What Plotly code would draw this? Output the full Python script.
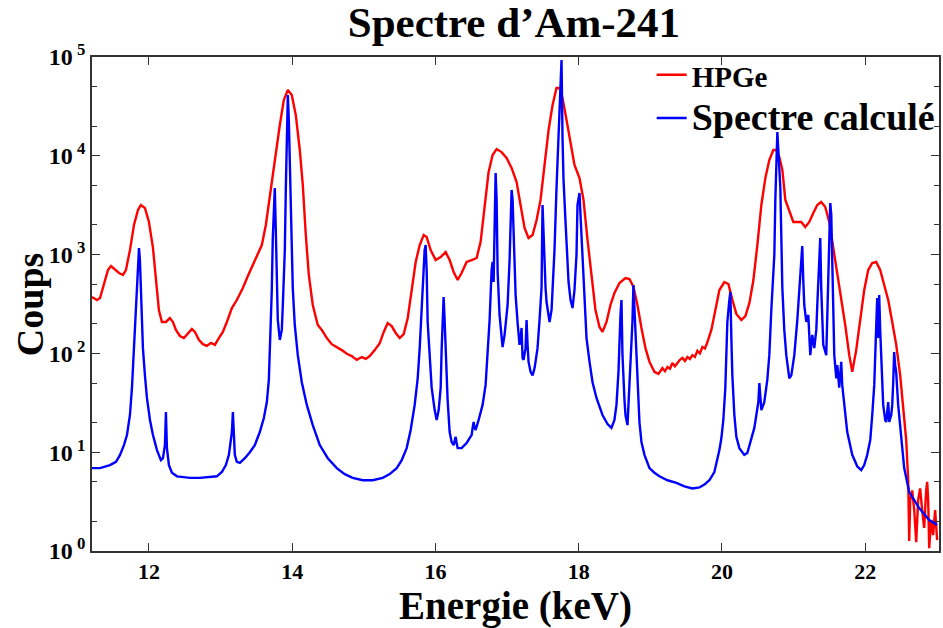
import plotly.graph_objects as go

# ---------------- data ----------------
hpge_energy = [
    11.205, 11.275, 11.317, 11.372, 11.428, 11.470, 11.526, 11.582, 11.637, 11.679,
    11.735, 11.791, 11.847, 11.888, 11.944, 12.000, 12.056, 12.098, 12.139, 12.181,
    12.237, 12.293, 12.335, 12.377, 12.432, 12.488, 12.544, 12.600, 12.642, 12.697,
    12.753, 12.809, 12.865, 12.921, 12.976, 13.032, 13.088, 13.158, 13.227, 13.311,
    13.381, 13.450, 13.520, 13.576, 13.632, 13.688, 13.757, 13.827, 13.883, 13.939,
    13.994, 14.050, 14.106, 14.148, 14.190, 14.232, 14.287, 14.357, 14.413, 14.483,
    14.552, 14.622, 14.692, 14.762, 14.831, 14.901, 14.971, 15.027, 15.082, 15.152,
    15.222, 15.278, 15.333, 15.389, 15.445, 15.501, 15.557, 15.613, 15.668, 15.724,
    15.780, 15.836, 15.877, 15.933, 16.003, 16.073, 16.142, 16.198, 16.254, 16.310,
    16.365, 16.435, 16.505, 16.575, 16.630, 16.686, 16.742, 16.798, 16.854, 16.923,
    16.993, 17.063, 17.133, 17.188, 17.244, 17.300, 17.356, 17.412, 17.467, 17.523,
    17.579, 17.635, 17.690, 17.732, 17.774, 17.830, 17.886, 17.941, 18.011, 18.067,
    18.123, 18.178, 18.234, 18.290, 18.332, 18.388, 18.443, 18.499, 18.569, 18.653,
    18.709, 18.764, 18.820, 18.876, 18.932, 18.988, 19.057, 19.113, 19.169, 19.204,
    19.239, 19.274, 19.308, 19.343, 19.378, 19.413, 19.448, 19.483, 19.518, 19.553,
    19.587, 19.622, 19.657, 19.692, 19.727, 19.762, 19.797, 19.852, 19.908, 19.964,
    20.034, 20.090, 20.146, 20.201, 20.271, 20.327, 20.383, 20.439, 20.494, 20.550,
    20.606, 20.661, 20.717, 20.759, 20.801, 20.843, 20.885, 20.940, 20.996, 21.052,
    21.107, 21.163, 21.219, 21.275, 21.331, 21.386, 21.442, 21.498, 21.554, 21.609,
    21.665, 21.721, 21.777, 21.819, 21.874, 21.930, 21.986, 22.042, 22.098, 22.153,
    22.209, 22.265, 22.321, 22.377, 22.433, 22.488, 22.530, 22.572, 22.600, 22.614,
    22.628, 22.656, 22.684, 22.712, 22.739, 22.767, 22.795, 22.823, 22.851, 22.865,
    22.879, 22.893, 22.921, 22.948, 22.976, 23.004,
]
hpge_counts = [
    372, 347, 364, 492, 698, 767, 698, 651, 622, 698,
    1113, 1995, 2830, 3180, 2960, 2140, 1170, 553, 275, 208,
    208, 228, 208, 173, 150, 143, 161, 177, 165, 137,
    124, 119, 128, 122, 143, 165, 208, 288, 347, 459,
    607, 785, 991, 1250, 1995, 4010, 9060, 20500, 36700, 46400,
    41200, 25900, 11450, 5060, 1580, 622, 309, 194, 173, 143,
    124, 116, 108, 99, 94, 86, 92, 88, 94, 108,
    127, 165, 203, 189, 161, 143, 157, 228, 438, 842,
    1250, 1580, 1507, 1113, 881, 946, 1060, 881, 667, 553,
    651, 842, 881, 924, 1340, 3180, 6850, 10200, 11700, 10900,
    9500, 7530, 5430, 3180, 1860, 1470, 1580, 2240, 3570, 8070,
    18200, 32700, 48500, 48500, 38400, 23000, 13500, 8070, 5960, 3570,
    1410, 580, 275, 185, 165, 208, 309, 408, 516, 580,
    566, 470, 309, 181, 113, 82, 65, 62, 71, 66,
    73, 70, 80, 74, 80, 86, 90, 84, 92, 88,
    96, 92, 106, 100, 116, 112, 130, 173, 275, 438,
    528, 504, 347, 251, 218, 239, 324, 553, 1250, 3180,
    5960, 9060, 11450, 11450, 9720, 7180, 3570, 2830, 2140, 2140,
    2140, 1900, 2140, 2640, 3180, 3410, 3030, 2140, 1170, 698,
    364, 194, 96, 65, 108, 228, 438, 698, 822, 842,
    698, 492, 347, 208, 122, 60, 26.7, 13.3, 5.2, 1.26,
    3.28, 4.1, 2.6, 1.23, 3.28, 4.3, 2.6, 1.71, 4.1, 5.0,
    3.28, 1.07, 2.06, 1.45, 2.6, 1.29,
]

calc_energy = [
    11.205, 11.317, 11.456, 11.540, 11.596, 11.651, 11.693, 11.735, 11.763, 11.791,
    11.805, 11.833, 11.847, 11.861, 11.874, 11.888, 11.902, 11.916, 11.944, 11.972,
    12.014, 12.056, 12.112, 12.167, 12.195, 12.223, 12.237, 12.251, 12.279, 12.321,
    12.391, 12.474, 12.572, 12.711, 12.851, 12.948, 13.018, 13.074, 13.116, 13.144,
    13.158, 13.172, 13.185, 13.199, 13.227, 13.269, 13.339, 13.409, 13.478, 13.548,
    13.604, 13.646, 13.674, 13.702, 13.715, 13.729, 13.743, 13.757, 13.771, 13.785,
    13.799, 13.827, 13.855, 13.869, 13.897, 13.911, 13.925, 13.939, 13.953, 13.967,
    13.980, 13.994, 14.008, 14.036, 14.078, 14.134, 14.204, 14.287, 14.385, 14.497,
    14.622, 14.734, 14.845, 14.985, 15.124, 15.264, 15.361, 15.459, 15.529, 15.598,
    15.654, 15.710, 15.752, 15.780, 15.808, 15.821, 15.835, 15.849, 15.863, 15.877,
    15.891, 15.919, 15.947, 15.989, 16.017, 16.045, 16.073, 16.086, 16.100, 16.114,
    16.128, 16.142, 16.170, 16.198, 16.226, 16.254, 16.268, 16.282, 16.296, 16.310,
    16.365, 16.435, 16.477, 16.505, 16.519, 16.533, 16.547, 16.561, 16.603, 16.658,
    16.700, 16.728, 16.756, 16.784, 16.798, 16.812, 16.826, 16.840, 16.854, 16.868,
    16.895, 16.909, 16.937, 16.965, 16.993, 17.007, 17.035, 17.049, 17.063, 17.077,
    17.091, 17.105, 17.119, 17.146, 17.174, 17.188, 17.202, 17.216, 17.230, 17.258,
    17.272, 17.286, 17.300, 17.328, 17.356, 17.384, 17.425, 17.453, 17.481, 17.495,
    17.509, 17.537, 17.551, 17.565, 17.593, 17.621, 17.635, 17.662, 17.690, 17.718,
    17.732, 17.746, 17.760, 17.774, 17.788, 17.816, 17.844, 17.858, 17.886, 17.914,
    17.941, 17.969, 17.983, 18.011, 18.025, 18.053, 18.081, 18.109, 18.151, 18.193,
    18.248, 18.332, 18.402, 18.457, 18.499, 18.527, 18.555, 18.569, 18.583, 18.597,
    18.611, 18.639, 18.653, 18.681, 18.709, 18.736, 18.750, 18.764, 18.778, 18.792,
    18.820, 18.848, 18.876, 18.918, 18.988, 19.057, 19.127, 19.239, 19.364, 19.476,
    19.587, 19.685, 19.755, 19.824, 19.894, 19.936, 19.964, 19.992, 20.019, 20.047,
    20.061, 20.075, 20.103, 20.117, 20.131, 20.145, 20.173, 20.201, 20.243, 20.312,
    20.354, 20.410, 20.452, 20.480, 20.508, 20.522, 20.536, 20.550, 20.577, 20.591,
    20.633, 20.661, 20.689, 20.717, 20.731, 20.745, 20.759, 20.773, 20.787, 20.815,
    20.843, 20.870, 20.898, 20.940, 20.968, 21.010, 21.052, 21.079, 21.107, 21.121,
    21.135, 21.149, 21.177, 21.205, 21.233, 21.261, 21.289, 21.317, 21.331, 21.358,
    21.372, 21.386, 21.414, 21.456, 21.470, 21.484, 21.498, 21.512, 21.526, 21.540,
    21.554, 21.568, 21.596, 21.610, 21.637, 21.665, 21.679, 21.707, 21.749, 21.819,
    21.888, 21.944, 21.986, 22.028, 22.070, 22.098, 22.126, 22.140, 22.153, 22.167,
    22.181, 22.195, 22.209, 22.223, 22.251, 22.279, 22.293, 22.321, 22.335, 22.363,
    22.377, 22.391, 22.404, 22.418, 22.432, 22.460, 22.488, 22.516, 22.544, 22.614,
    22.684, 22.753, 22.823, 22.893, 22.962, 23.004,
]
calc_counts = [
    6.9, 6.9, 7.4, 8.0, 9.4, 11.8, 14.9, 23.8, 45, 108,
    208, 438, 667, 1167, 881, 459, 218, 113, 60, 35.4,
    21.2, 14.9, 10.5, 8.3, 8.7, 11.8, 25.5, 11.0, 7.4, 6.2,
    5.7, 5.6, 5.5, 5.5, 5.6, 5.7, 6.3, 7.4, 9.4, 13.3,
    16.0, 25.5, 13.3, 9.4, 8.0, 7.8, 8.7, 10.0, 11.8, 16.0,
    22.2, 32.2, 54, 181, 438, 1470, 3570, 4720, 1775, 459,
    218, 137, 173, 309, 1113, 4720, 18200, 41200, 23000, 9060,
    4720, 1410, 459, 194, 96, 51, 30.1, 18.8, 11.8, 8.7,
    6.9, 6.0, 5.5, 5.2, 5.2, 5.5, 6.0, 6.9, 8.3, 11.0,
    16.8, 30.1, 56, 113, 275, 459, 785, 1113, 1250, 698,
    208, 86, 45, 26.7, 21.2, 26.7, 45, 108, 208, 372,
    218, 96, 33.7, 16.0, 12.7, 11.8, 13.3, 14.3, 12.4, 11.0,
    11.0, 12.4, 13.9, 14.9, 17.6, 20.2, 17.6, 16.8, 21.2, 30.1,
    48, 96, 218, 698, 842, 528, 1775, 6700, 3570, 667,
    245, 181, 116, 154, 245, 309, 881, 2520, 4510, 3570,
    1410, 667, 390, 208, 122, 137, 181, 90, 86, 113,
    218, 122, 82, 65, 60, 71, 113, 218, 459, 3180,
    1410, 459, 331, 288, 208, 275, 459, 1113, 4720, 18200,
    32700, 65800, 93300, 15100, 5690, 2140, 881, 528, 347, 288,
    438, 991, 3180, 4200, 2520, 991, 347, 143, 82, 51,
    35.4, 23.8, 19.3, 17.6, 21.2, 30.1, 65, 143, 245, 347,
    96, 33.7, 23.8, 18.8, 45, 137, 208, 492, 275, 143,
    48, 20.2, 12.7, 9.4, 6.9, 6.2, 5.7, 5.2, 4.9, 4.5,
    4.3, 4.4, 4.7, 5.2, 6.3, 8.3, 10.5, 13.9, 21.2, 45,
    96, 208, 347, 418, 143, 60, 23.8, 14.3, 11.0, 9.4,
    9.8, 13.9, 17.6, 23.8, 32.2, 50, 33.7, 26.7, 30.1, 32.2,
    54, 96, 275, 698, 991, 3570, 9060, 17400, 11450, 4720,
    459, 173, 96, 56, 60, 96, 218, 459, 991, 1222,
    553, 309, 208, 245, 96, 154, 113, 173, 309, 785,
    1470, 459, 122, 96, 218, 667, 1995, 3330, 2520, 991,
    275, 96, 56, 76, 45, 82, 48, 30.1, 16.0, 9.4,
    7.2, 6.6, 7.4, 9.4, 13.3, 23.8, 48, 96, 218, 364,
    143, 390, 173, 96, 30.1, 21.2, 20.2, 32.2, 20.2, 23.8,
    30.1, 51, 103, 76, 65, 30.1, 17.6, 10.5, 6.9, 3.95,
    3.28, 2.72, 2.37, 2.06, 1.92, 1.83,
]

y_tick_values = [1, 10, 100, 1000, 10000, 100000]
y_tick_labels = ["10<sup> 0</sup>", "10<sup> 1</sup>", "10<sup> 2</sup>",
                 "10<sup> 3</sup>", "10<sup> 4</sup>", "10<sup> 5</sup>"]
x_tick_values = [12, 14, 16, 18, 20, 22]

# ---------------- figure ----------------
FONT = "Liberation Serif"

fig = go.Figure()
fig.add_trace(go.Scatter(
    x=hpge_energy, y=hpge_counts, mode="lines",
    name="<span style='font-size:29px'>HPGe</span>",
    line=dict(color="#ff0000", width=2.4),
))
fig.add_trace(go.Scatter(
    x=calc_energy, y=calc_counts, mode="lines",
    name="<span style='font-size:38px'>Spectre calculé</span>",
    line=dict(color="#0000ff", width=2.4),
))

axis_common = dict(
    showline=True, linecolor="#333333", linewidth=1.5, mirror="ticks",
    ticks="inside", tickcolor="#333333", showgrid=False, zeroline=False,
    automargin=False,
)

fig.update_layout(
    width=943, height=628,
    margin=dict(l=92, r=3, t=57, b=77),
    paper_bgcolor="white", plot_bgcolor="white",
    font=dict(family=FONT, color="black"),
    title=dict(text="Spectre d’Am-241", x=0.545, xanchor="center", y=0.965, yanchor="middle",
               font=dict(family=FONT, size=43, weight="bold", color="black")),
    showlegend=True,
    legend=dict(x=0.66, y=1.018, xanchor="left", yanchor="top",
                bgcolor="rgba(0,0,0,0)", borderwidth=0,
                font=dict(family=FONT, size=31, weight="bold", color="black"),
                itemwidth=30, tracegroupgap=0),
    xaxis=dict(
        range=[11.205, 23.03], tickvals=x_tick_values, ticklen=8,
        tickfont=dict(family=FONT, size=22, weight="bold", color="black"),
        title=dict(text="Energie (keV)", standoff=4,
                   font=dict(family=FONT, size=39, weight="bold", color="black")),
        **axis_common,
    ),
    yaxis=dict(
        type="log", range=[0, 5], tickvals=y_tick_values, ticktext=y_tick_labels,
        ticklen=8,
        minor=dict(ticks="inside", ticklen=5, tickcolor="#333333", showgrid=False),
        tickfont=dict(family=FONT, size=24, weight="bold", color="black"),
        **axis_common,
    ),
    annotations=[dict(
        text="Coups", textangle=-90, xref="paper", yref="paper",
        x=-0.073, y=0.5, xanchor="center", yanchor="middle", showarrow=False,
        font=dict(family=FONT, size=38, weight="bold", color="black"),
    )],
)

fig.write_html(
    "out.html",
    config={"displayModeBar": False},
    post_script="document.body.style.margin='0';document.body.style.overflow='hidden';",
)
